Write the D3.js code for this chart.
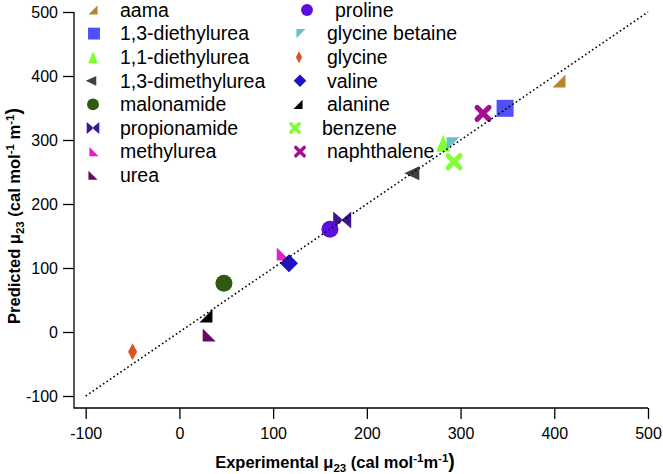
<!DOCTYPE html>
<html><head><meta charset="utf-8">
<script src="https://cdn.jsdelivr.net/npm/d3@7"></script>
<style>body{margin:0;background:#fff}svg{display:block}text{font-family:"Liberation Sans",Arial,sans-serif}</style>
</head><body><svg id="c" width="663" height="474"></svg>
<script>
// ---- data ----
const names = ["aama","1,3-diethylurea","1,1-diethylurea","1,3-dimethylurea","malonamide","propionamide","methylurea","urea",
  "proline","glycine betaine","glycine","valine","alanine","benzene","naphthalene"];
const experimental = [405, 347.5, 281.5, 248, 47.5, 173.7, 110.8, 31.8, 160.6, 292, -50, 116.9, 28.3, 293, 324];
const predicted    = [392, 349.5, 295, 248, 76, 175, 122, -4.7, 160.5, 294, -31, 107.3, 25, 266, 341.6];
const shapes = ["triBR","square","triUp","triLeft","circle","bowtie","triBL","triBL",
  "circle","triTL","thinDiamond","diamond","triBR","cross","cross"];
const colors = ["#B8862E","#5050F8","#80FF2E","#3F3F3F","#2E5A12","#3D1496","#E020C8","#6A0860",
  "#5A0FE0","#66C2C8","#D9541E","#1F12C0","#000000","#80FF33","#A01090"];
const xTicks = [-100,0,100,200,300,400,500];
const yTicks = [-100,0,100,200,300,400,500];
const identityLine = [-100, 500];

// ---- layout ----
const svg = d3.select("#c");
const x = d3.scaleLinear().domain([-100,500]).range([85.7,648]);
const y = d3.scaleLinear().domain([-100,500]).range([396,12]);
const axisX0 = 74, axisY0 = 408;

function shapePath(t, k){
  const s = k;
  switch(t){
    case "square": {const h=8.5*s; return `M${-h},${-h}H${h}V${h}H${-h}Z`;}
    case "circle": {const r=8.5*s; return `M${r},0A${r},${r} 0 1 1 ${-r},0A${r},${r} 0 1 1 ${r},0Z`;}
    case "diamond": {const h=9*s; return `M0,${-h}L${h},0L0,${h}L${-h},0Z`;}
    case "thinDiamond": {const h=8.5*s, w=4.5*s; return `M0,${-h}L${w},0L0,${h}L${-w},0Z`;}
    case "triUp": {const h=8.5*s, w=6.8*s; return `M0,${-h}L${w},${h}L${-w},${h}Z`;}
    case "triLeft": {const h=7*s, w=7.5*s; return `M${-w},0L${w},${-h}L${w},${h}Z`;}
    case "triBR": {const h=6.5*s; return `M${h},${-h}L${h},${h}L${-h},${h}Z`;}
    case "triBL": {const h=6.5*s; return `M${-h},${-h}L${-h},${h}L${h},${h}Z`;}
    case "triTL": {const h=6.5*s; return `M${-h},${-h}L${h},${-h}L${-h},${h}Z`;}
    case "bowtie": {const h=8.5*s, w=9*s; return `M${-w},${-h}L0.8,0L${-w},${h}ZM${w},${-h}L-0.8,0L${w},${h}Z`;}
    case "cross": {const h=6*s; return `M${-h},${-h}L${h},${h}M${h},${-h}L${-h},${h}`;}
  }
}
function drawMarker(g, t, col, k){
  const p = g.append("path").attr("d", shapePath(t,k));
  if(t==="cross") p.attr("fill","none").attr("stroke",col).attr("stroke-width",5*k).attr("stroke-linecap","round");
  else p.attr("fill",col);
}

// ---- axes ----
const fmt = d => String(d);
const xa = svg.append("g").attr("transform",`translate(0,${axisY0})`)
  .call(d3.axisBottom(x).tickValues(xTicks).tickFormat(fmt).tickSize(11).tickPadding(9).tickSizeOuter(0));
const ya = svg.append("g").attr("transform",`translate(${axisX0},0)`)
  .call(d3.axisLeft(y).tickValues(yTicks).tickFormat(fmt).tickSize(11).tickPadding(5).tickSizeOuter(0));
[xa,ya].forEach(a=>{
  a.select(".domain").remove();
  a.selectAll(".tick line").attr("stroke","#000").attr("stroke-width",1.3);
  a.selectAll(".tick text").attr("font-size",16).attr("fill","#000").style("font-family","'Liberation Sans',Arial,sans-serif");
});
svg.append("path").attr("d",`M${axisX0},${y(500)}V${axisY0}H${x(500)}`).attr("fill","none").attr("stroke","#000").attr("stroke-width",1.3);

// ---- titles ----
function title(t){
  t.attr("font-weight","bold").attr("font-size",16.5).attr("fill","#000");
}
const xt = svg.append("text").attr("x",335).attr("y",468).attr("text-anchor","middle").call(title);
xt.append("tspan").text("Experimental \u03bc");
xt.append("tspan").attr("font-size",11.5).attr("dy",4).text("23");
xt.append("tspan").attr("dy",-4).text(" (cal mol");
xt.append("tspan").attr("font-size",11.5).attr("dy",-6).text("-1");
xt.append("tspan").attr("dy",6).text("m");
xt.append("tspan").attr("font-size",11.5).attr("dy",-6).text("-1");
xt.append("tspan").attr("dy",6).attr("font-size",19.5).text(")");

const yt = svg.append("text").attr("transform","translate(20,216) rotate(-90)").attr("text-anchor","middle").call(title);
yt.append("tspan").text("Predicted \u03bc");
yt.append("tspan").attr("font-size",11.5).attr("dy",4).text("23");
yt.append("tspan").attr("dy",-4).text(" (cal mol");
yt.append("tspan").attr("font-size",11.5).attr("dy",-6).text("-1");
yt.append("tspan").attr("dy",6).text(" m");
yt.append("tspan").attr("font-size",11.5).attr("dy",-6).text("-1");
yt.append("tspan").attr("dy",6).attr("font-size",19.5).text(")");

// ---- points ----
names.forEach((n,i)=>{
  const g = svg.append("g").attr("transform",`translate(${x(experimental[i])},${y(predicted[i])})`);
  drawMarker(g, shapes[i], colors[i], 1);
});

// ---- identity line ----
svg.append("line")
  .attr("x1",x(identityLine[0])).attr("y1",y(identityLine[0]))
  .attr("x2",x(identityLine[1])).attr("y2",y(identityLine[1]))
  .attr("stroke","#000").attr("stroke-width",1.6).attr("stroke-dasharray","1.6,2.6");

// ---- legend ----
const rowY0 = 10, rowStep = 23.6;
const legMarkerX = [93,94,93,91,93,93,94,93, 307,301,299,300,298,295,300];
const legTextX   = [120,120,120,120,120,120,120,120, 335,327,327,327,327,322,327];
names.forEach((n,i)=>{
  const row = i<8 ? i : i-8;
  const cy = rowY0 + row*rowStep;
  const g = svg.append("g").attr("transform",`translate(${legMarkerX[i]},${cy})`);
  drawMarker(g, shapes[i], colors[i], 0.7);
  svg.append("text").attr("x",legTextX[i]).attr("y",cy+6.8).attr("font-size",19.5).attr("fill","#000").text(n);
});
</script></body></html>
